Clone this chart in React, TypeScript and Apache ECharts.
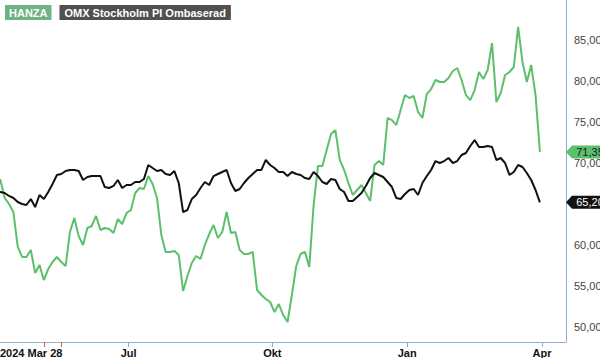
import React, { useEffect, useRef } from "react";
import * as echarts from "echarts";

// Sampled every 2nd trading day, starting 2024-03-28 (Nasdaq Stockholm calendar)
const hanza: number[] = [
  68.17, 67.93, 65.73, 65.0, 64.02, 59.76, 58.54, 58.54, 59.39, 56.59,
  57.56, 55.73, 57.07, 57.93, 58.54, 57.93, 57.44, 61.59, 63.29, 61.1,
  60.0, 62.07, 62.32, 63.54, 61.83, 62.07, 61.95, 61.46, 63.17, 62.56,
  63.9, 64.27, 66.34, 66.95, 66.83, 68.41, 67.44, 65.73, 61.22, 59.15,
  59.15, 59.27, 58.78, 54.39, 56.22, 57.8, 58.66, 58.29, 60.0, 61.34,
  62.44, 60.85, 61.59, 64.02, 61.46, 61.59, 59.39, 58.9, 58.9, 59.15,
  54.51, 53.9, 53.41, 53.05, 51.83, 52.8, 51.46, 50.61, 53.9, 57.44,
  58.9, 59.15, 57.32, 64.88, 69.63, 69.63, 71.59, 73.54, 74.02, 70.37,
  69.15, 67.56, 66.1, 66.71, 67.32, 66.34, 65.37, 69.76, 70.24, 69.76,
  75.49, 75.24, 74.63, 76.46, 78.29, 77.93, 78.17, 76.22, 75.49, 78.41,
  79.02, 80.12, 79.88, 79.88, 80.37, 81.22, 81.59, 80.12, 78.29, 77.68,
  78.9, 81.1, 80.24, 81.34, 84.63, 77.44, 78.54, 80.73, 81.1, 81.71,
  86.59, 82.32, 79.88, 81.95, 78.29, 71.35,
];

const omx: number[] = [
  66.46, 66.46, 66.34, 65.98, 65.73, 65.24, 65.0, 64.88, 65.61, 64.63,
  66.1, 65.61, 66.46, 67.44, 68.54, 68.66, 69.02, 69.15, 69.15, 69.02,
  67.93, 68.29, 68.41, 68.41, 68.41, 67.07, 66.95, 67.2, 67.93, 66.95,
  67.32, 67.32, 67.68, 67.68, 68.05, 69.76, 69.39, 69.02, 69.15, 68.66,
  68.54, 69.02, 67.56, 64.02, 64.27, 65.61, 66.1, 66.95, 67.68, 67.32,
  68.41, 68.66, 68.9, 69.15, 67.56, 66.59, 66.83, 67.56, 68.17, 68.66,
  69.15, 69.15, 70.37, 69.76, 69.39, 68.9, 68.9, 68.41, 68.9, 68.66,
  68.54, 68.17, 68.05, 68.9, 68.41, 67.68, 67.44, 68.05, 67.93, 66.83,
  66.46, 65.37, 65.37, 65.85, 66.34, 67.2, 68.17, 68.78, 68.54, 68.29,
  67.68, 67.07, 65.73, 65.61, 66.22, 66.71, 66.83, 66.1, 67.56, 68.41,
  69.15, 70.24, 70.0, 70.24, 70.61, 70.0, 70.24, 70.98, 71.22, 72.07,
  72.8, 71.95, 71.95, 72.07, 71.95, 70.37, 70.61, 70.0, 68.54, 68.9,
  69.76, 69.51, 68.78, 67.93, 66.71, 65.2,
];

const SAMPLE_STEP = 2;
// 65,00 is hidden behind the OMX price tag in the reference
const yTickValues = [50, 55, 60, 70, 75, 80, 85];
const monthNames = ["Jan", "Feb", "Mar", "Apr", "Maj", "Jun", "Jul", "Aug", "Sep", "Okt", "Nov", "Dec"];
const labelMonths = ["2024-07", "2024-10", "2025-01", "2025-04"];
const holidays = [
  "2024-03-29", "2024-04-01", "2024-05-01", "2024-05-09", "2024-06-06", "2024-06-21",
  "2024-12-24", "2024-12-25", "2024-12-26", "2024-12-31", "2025-01-01", "2025-01-06",
  "2025-04-18", "2025-04-21",
];
const eventIndices = [22, 30];
const CATEGORY_COUNT = 263;

function tradingDays(start: string, count: number): string[] {
  const out: string[] = [];
  const d = new Date(start + "T00:00:00Z");
  while (out.length < count) {
    const dow = d.getUTCDay();
    const s = d.toISOString().slice(0, 10);
    if (dow !== 0 && dow !== 6 && !holidays.includes(s)) out.push(s);
    d.setUTCDate(d.getUTCDate() + 1);
  }
  return out;
}

const fmt = (v: number) => v.toFixed(2).replace(".", ",");

export default function App() {
  const ref = useRef<HTMLDivElement>(null);
  useEffect(() => {
    if (!ref.current) return;
    const chart = echarts.init(ref.current, undefined, { renderer: "svg" });
    const dates = tradingDays("2024-03-28", CATEGORY_COUNT);
    const labelIdx = new Set<number>([0]);
    for (let i = 1; i < dates.length; i++) {
      const ym = dates[i].slice(0, 7);
      if (ym !== dates[i - 1].slice(0, 7) && labelMonths.includes(ym)) labelIdx.add(i);
    }
    const font = "'Liberation Sans', Arial, sans-serif";
    const axisColor = "#8eb0cf";
    const green = "#5cbf6c";
    const lastH = hanza[hanza.length - 1];
    const lastO = omx[omx.length - 1];
    const tagPath = "path://M0,6.5 L6,0 L44,0 L44,13 L6,13 Z";
    chart.setOption({
      animation: false,
      textStyle: { fontFamily: font },
      legend: {
        left: -5,
        top: 0,
        itemGap: 3,
        itemWidth: 0,
        itemHeight: 0,
        selectedMode: false,
        data: [
          {
            name: "HANZA",
            icon: "none",
            textStyle: {
              backgroundColor: "#6db384",
              color: "#fff",
              fontWeight: "bold",
              fontSize: 11,
              lineHeight: 13,
              padding: [1, 4, 1, 4],
              fontFamily: font,
            },
          },
          {
            name: "OMX Stockholm PI Ombaserad",
            icon: "none",
            textStyle: {
              backgroundColor: "#505050",
              color: "#fff",
              fontWeight: "bold",
              fontSize: 11,
              lineHeight: 13,
              padding: [1, 5, 1, 5],
              fontFamily: font,
            },
          },
        ],
      },
      grid: { left: -4, right: 34, top: 0, bottom: 16, containLabel: false, outerBoundsMode: "none" },
      xAxis: [
        {
          type: "category",
          data: dates,
          boundaryGap: false,
          axisLine: { show: true, lineStyle: { color: axisColor, width: 1 } },
          axisTick: {
            show: true,
            length: 5,
            interval: (i: number) => labelIdx.has(i) && i !== 0,
            lineStyle: { color: axisColor },
          },
          axisLabel: {
            interval: (i: number) => labelIdx.has(i),
            alignMinLabel: "left",
            hideOverlap: false,
            margin: 5,
            color: "#111",
            fontWeight: "bold",
            fontSize: 11,
            fontFamily: font,
            formatter: (v: string, i: number) => {
              const m = monthNames[parseInt(v.slice(5, 7), 10) - 1];
              if (i === 0) return "{first|" + v.slice(0, 4) + " " + m + " " + parseInt(v.slice(8, 10), 10) + "}";
              return m;
            },
            rich: {
              first: { padding: [0, 0, 0, 4], fontWeight: "bold", fontSize: 11, color: "#111", fontFamily: font },
            },
          },
          splitLine: { show: false },
        },
        {
          type: "category",
          data: dates,
          boundaryGap: false,
          position: "bottom",
          axisLine: { show: false },
          axisLabel: { show: false },
          axisTick: {
            show: true,
            length: 5,
            interval: (i: number) => eventIndices.includes(i),
            lineStyle: { color: "#e05555" },
          },
          splitLine: { show: false },
        },
      ],
      yAxis: {
        type: "value",
        position: "right",
        min: 48.17,
        max: 89.88,
        axisLine: { show: true, lineStyle: { color: axisColor } },
        axisTick: { show: false },
        splitLine: { show: false },
        axisLabel: {
          customValues: yTickValues,
          margin: 8,
          color: "#444",
          fontSize: 11,
          fontFamily: font,
          formatter: (v: number) => fmt(v),
        },
      },
      series: [
        {
          name: "HANZA",
          type: "line",
          data: hanza.map((v, i) => [i * SAMPLE_STEP, v]),
          showSymbol: false,
          symbol: "none",
          lineStyle: { color: green, width: 2 },
          itemStyle: { color: green },
          z: 2,
          markPoint: {
            symbol: tagPath,
            symbolSize: [44, 13],
            symbolKeepAspect: false,
            symbolOffset: [22, 0],
            itemStyle: { color: green },
            label: { show: true, color: "#1a1a1a", fontSize: 11, fontFamily: font, offset: [2, 0], formatter: () => fmt(lastH) },
            data: [{ coord: [CATEGORY_COUNT - 1, lastH] }],
          },
        },
        {
          name: "OMX Stockholm PI Ombaserad",
          type: "line",
          data: omx.map((v, i) => [i * SAMPLE_STEP, v]),
          showSymbol: false,
          symbol: "none",
          lineStyle: { color: "#111", width: 2 },
          itemStyle: { color: "#111" },
          z: 3,
          markPoint: {
            symbol: tagPath,
            symbolSize: [44, 13],
            symbolKeepAspect: false,
            symbolOffset: [22, 0],
            itemStyle: { color: "#111" },
            label: { show: true, color: "#fff", fontSize: 11, fontFamily: font, offset: [2, 0], formatter: () => fmt(lastO) },
            data: [{ coord: [CATEGORY_COUNT - 1, lastO] }],
          },
        },
      ],
    });
    return () => chart.dispose();
  }, []);
  return <div ref={ref} style={{ width: 600, height: 358, position: "fixed", left: 0, top: 0, background: "#fff" }} />;
}
